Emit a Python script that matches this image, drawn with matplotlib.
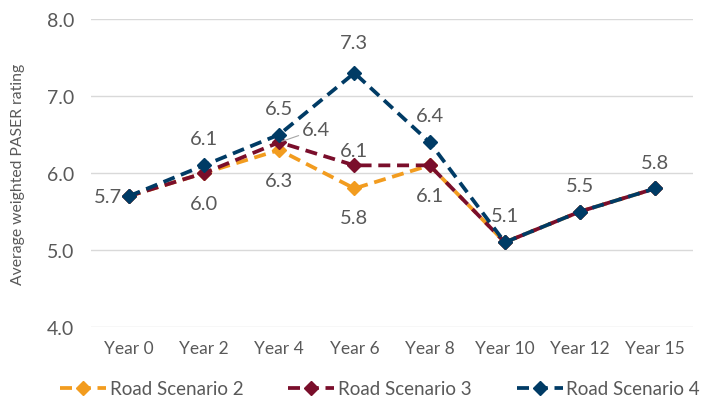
import matplotlib
matplotlib.use("Agg")
import matplotlib.pyplot as plt

years = ["Year 0", "Year 2", "Year 4", "Year 6", "Year 8", "Year 10", "Year 12", "Year 15"]
scenario2 = [5.7, 6.0, 6.3, 5.8, 6.1, 5.1, 5.5, 5.8]
scenario3 = [5.7, 6.0, 6.4, 6.1, 6.1, 5.1, 5.5, 5.8]
scenario4 = [5.7, 6.1, 6.5, 7.3, 6.4, 5.1, 5.5, 5.8]
names = ["Road Scenario 2", "Road Scenario 3", "Road Scenario 4"]

ORANGE, MAROON, NAVY, TXT = "#F29C1F", "#7A0E2B", "#003B65", "#595959"
plt.rcParams["font.family"] = ["Lato", "DejaVu Sans"]

# which labels are shown and where: (series index, point index, dx, dy, ha)
labels = [
    (2, 0, -5, 0, "right"),
    (2, 1, 0, 19, "center"), (0, 1, 0, -22, "center"),
    (2, 2, 0, 19, "center"), (1, 2, 0, 0, "left"), (0, 2, 0, -22, "center"),
    (2, 3, 0, 22, "center"), (1, 3, 0, 11, "center"), (0, 3, 0, -21, "center"),
    (2, 4, 0, 19, "center"), (0, 4, 0, -22, "center"),
    (2, 5, 0, 19, "center"), (2, 6, 0, 19, "center"), (2, 7, 0, 19, "center"),
]

fig = plt.figure(figsize=(7.18, 4.02), dpi=100)
ax = fig.add_axes([0.127, 0.184, 0.838, 0.766])
series = [scenario2, scenario3, scenario4]
x = list(range(len(years)))
for vals, col, nm in zip(series, [ORANGE, MAROON, NAVY], names):
    ax.plot(x, vals, color=col, lw=2.7, ls=(0, (3.2, 1.8)), marker="D", ms=7,
            label=nm, dash_capstyle="butt")

for s, i, dx, dy, ha in labels:
    v = series[s][i]
    if ha == "left":
        ax.annotate(f"{v:.1f}", (i, v), xytext=(16, 9), textcoords="offset points",
                    ha="left", va="center", fontsize=14.5, color=TXT,
                    arrowprops=dict(arrowstyle="-", color="#a6a6a6", lw=0.8, shrinkA=0, shrinkB=2))
    else:
        ax.annotate(f"{v:.1f}", (i, v), xytext=(dx, dy), textcoords="offset points",
                    ha=ha, va="center", fontsize=14.5, color=TXT)

ax.set_xlim(-0.5, len(years) - 0.5)
ax.set_ylim(4.0, 8.0)
ticks = [4.0, 5.0, 6.0, 7.0, 8.0]
ax.set_yticks(ticks)
ax.set_yticklabels([f"{t:.1f}" for t in ticks], fontsize=14, color=TXT)
ax.set_xticks(x)
ax.set_xticklabels(years, fontsize=12.5, color=TXT)
ax.tick_params(length=0, pad=9)
ax.tick_params(axis="y", pad=12)
for sp in ax.spines.values():
    sp.set_visible(False)
ax.grid(axis="y", color="#d9d9d9", lw=1)
ax.set_axisbelow(True)
ax.set_ylabel("Average weighted PASER rating", fontsize=11.3, color=TXT)
ax.yaxis.set_label_coords(-0.11, 0.5)

ax.legend(loc="center", bbox_to_anchor=(0.48, -0.2), ncol=3, frameon=False,
          fontsize=13.5, labelcolor=TXT, handlelength=2.45, handletextpad=0.2,
          columnspacing=2.4)

fig.savefig("out.png", dpi=100)
